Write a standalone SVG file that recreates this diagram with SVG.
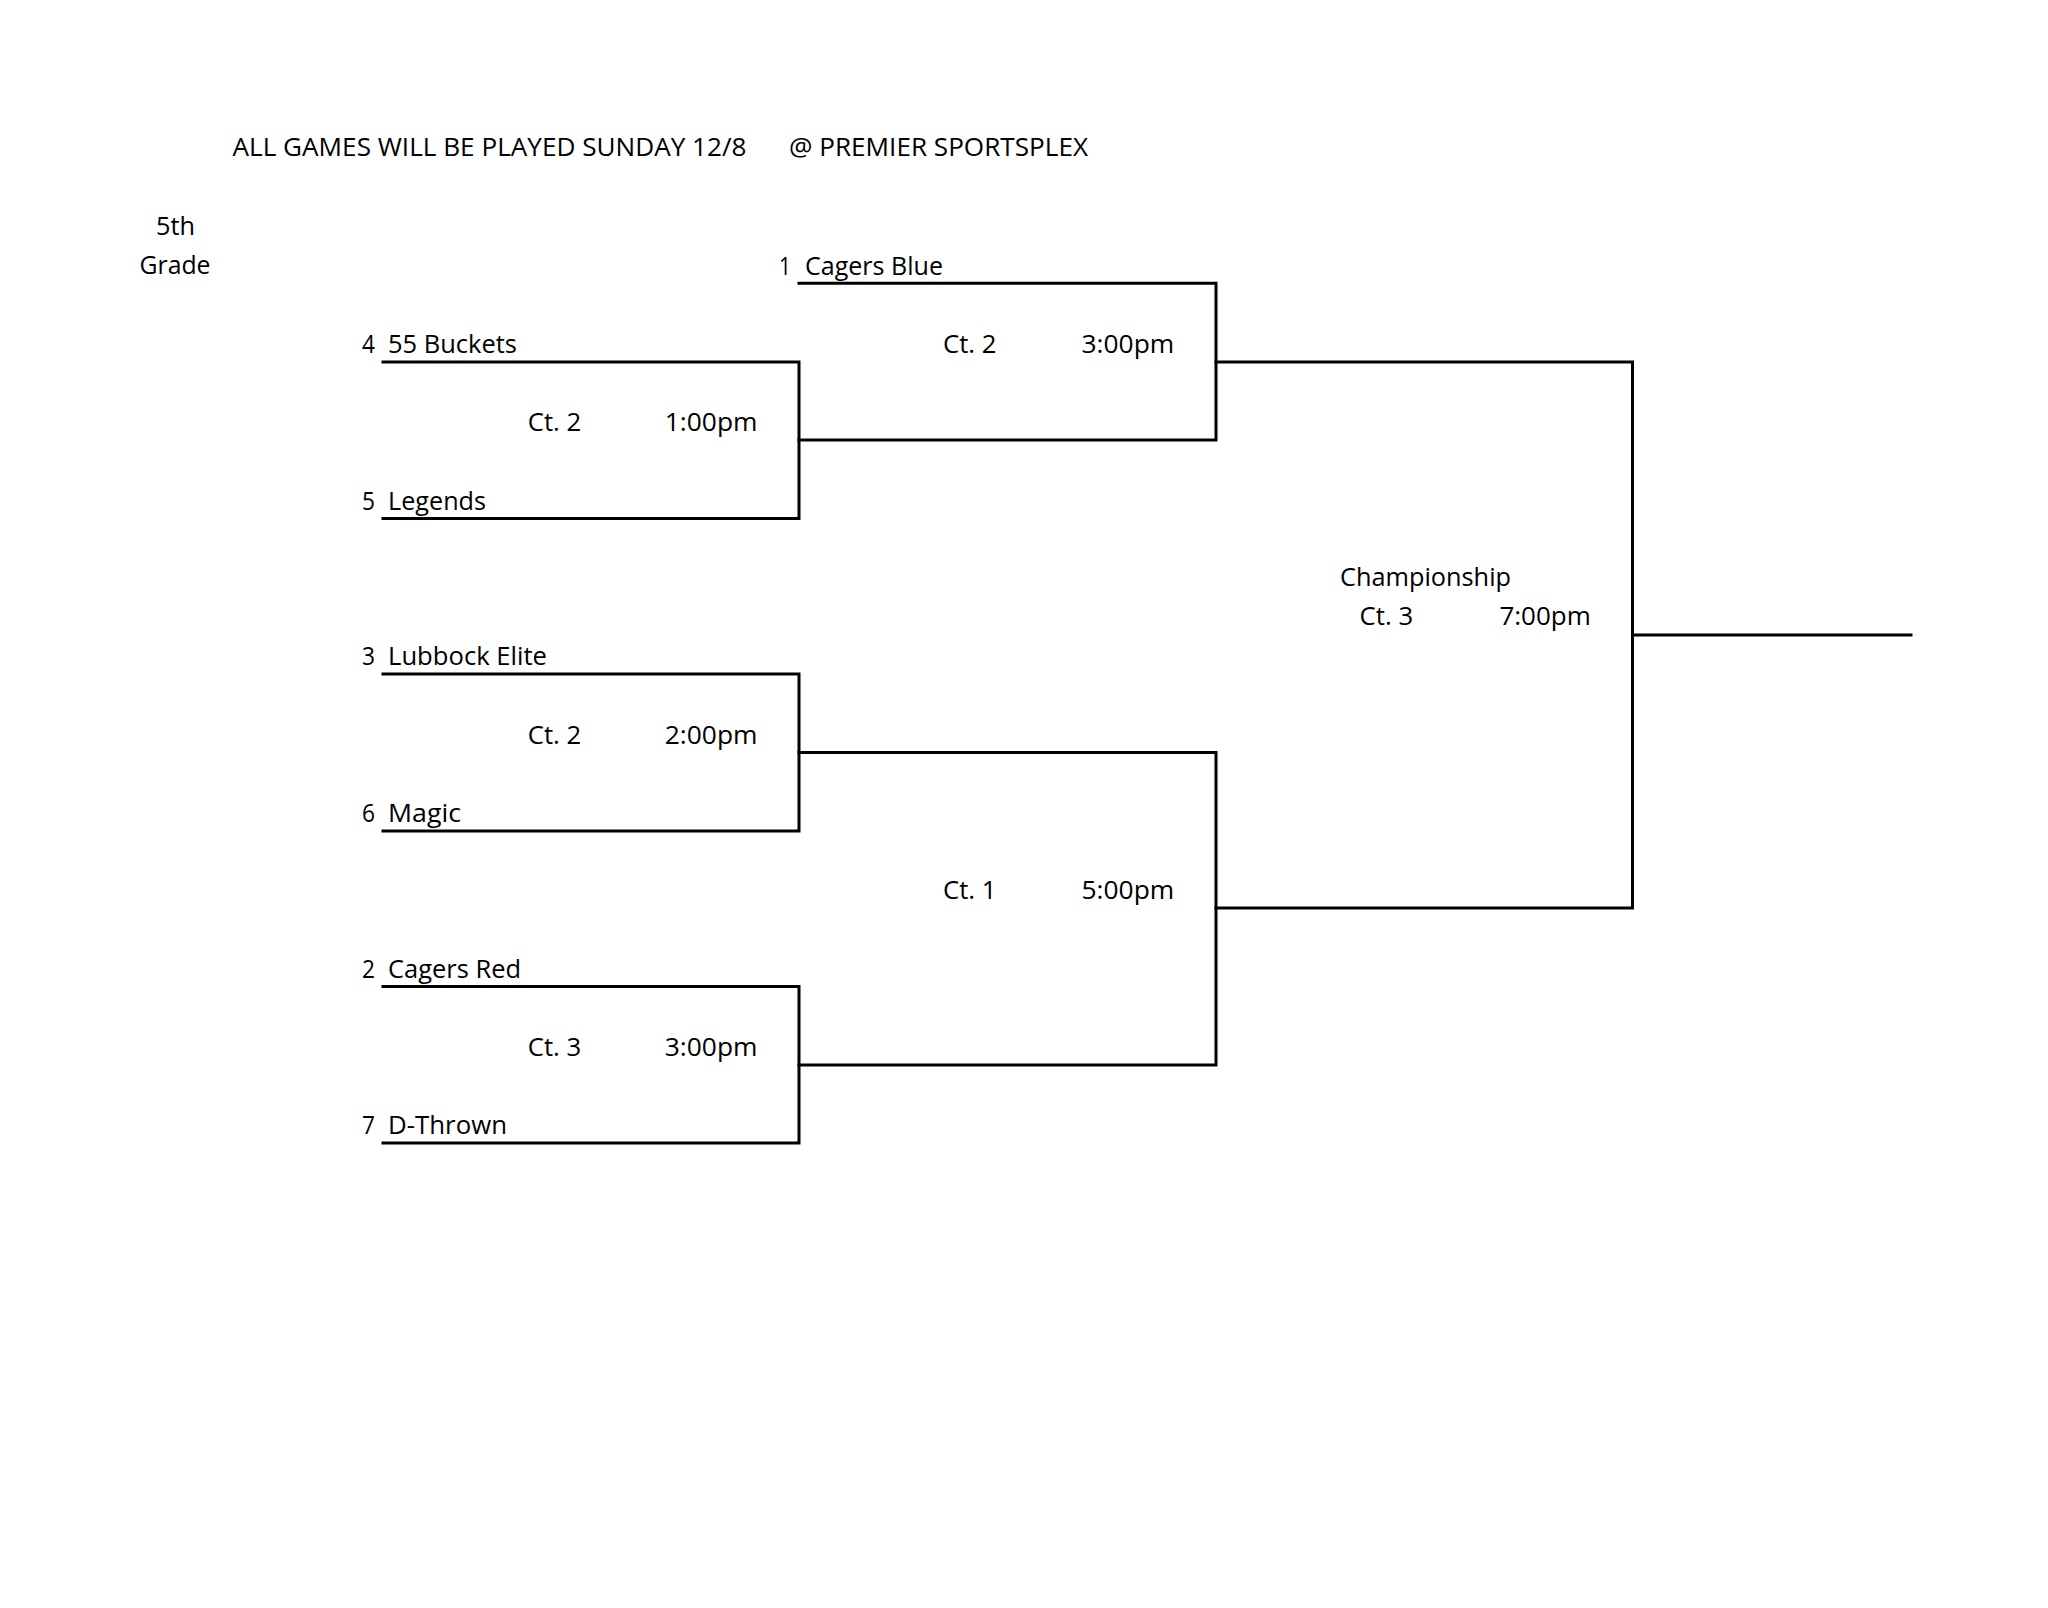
<svg xmlns="http://www.w3.org/2000/svg" width="2048" height="1608" viewBox="0 0 2048 1608">
<style>
text{font-family:"Open Sans","Liberation Sans",sans-serif;font-size:25.5px;fill:#000}
.ln{stroke:#000;stroke-width:3;fill:none;stroke-linecap:square}
</style>
<rect width="2048" height="1608" fill="#fff"/>
<g id="header">
<text x="232.5" y="156" textLength="514" lengthAdjust="spacingAndGlyphs">ALL GAMES WILL BE PLAYED SUNDAY 12/8</text>
<text x="789" y="156" textLength="299" lengthAdjust="spacingAndGlyphs">@ PREMIER SPORTSPLEX</text>
<text x="156" y="235" textLength="39" lengthAdjust="spacingAndGlyphs">5th</text>
<text x="139.5" y="274" textLength="71" lengthAdjust="spacingAndGlyphs">Grade</text>
</g>
<g id="connectors">
<path class="ln" d="M799 283.3H1216V440H799"/>
<path class="ln" d="M383 362H799V518.5H383"/>
<path class="ln" d="M383 674H799V831H383"/>
<path class="ln" d="M383 986.5H799V1143H383"/>
<path class="ln" d="M799 752.5H1216V1065H799"/>
<path class="ln" d="M1216 362H1632.5V908H1216"/>
<path class="ln" d="M1632.5 635H1911"/>
</g>
<g id="team-1"><text x="779" y="274.5" textLength="12" lengthAdjust="spacingAndGlyphs">1</text><text x="805" y="274.5" textLength="138" lengthAdjust="spacingAndGlyphs">Cagers Blue</text></g>
<g id="team-4"><text x="362" y="353" textLength="13" lengthAdjust="spacingAndGlyphs">4</text><text x="388" y="353" textLength="129" lengthAdjust="spacingAndGlyphs">55 Buckets</text></g>
<g id="team-5"><text x="362" y="509.5" textLength="13" lengthAdjust="spacingAndGlyphs">5</text><text x="388" y="509.5" textLength="98" lengthAdjust="spacingAndGlyphs">Legends</text></g>
<g id="team-3"><text x="362" y="665" textLength="13" lengthAdjust="spacingAndGlyphs">3</text><text x="388" y="665" textLength="159" lengthAdjust="spacingAndGlyphs">Lubbock Elite</text></g>
<g id="team-6"><text x="362" y="822" textLength="13" lengthAdjust="spacingAndGlyphs">6</text><text x="388" y="822" textLength="73" lengthAdjust="spacingAndGlyphs">Magic</text></g>
<g id="team-2"><text x="362" y="977.5" textLength="13" lengthAdjust="spacingAndGlyphs">2</text><text x="388" y="977.5" textLength="133" lengthAdjust="spacingAndGlyphs">Cagers Red</text></g>
<g id="team-7"><text x="362" y="1134" textLength="13" lengthAdjust="spacingAndGlyphs">7</text><text x="388" y="1134" textLength="119" lengthAdjust="spacingAndGlyphs">D-Thrown</text></g>
<g id="game-1"><text x="527.7" y="431" textLength="53.5" lengthAdjust="spacingAndGlyphs">Ct. 2</text><text x="664.8" y="431" textLength="92.7" lengthAdjust="spacingAndGlyphs">1:00pm</text></g>
<g id="game-2"><text x="527.7" y="743.5" textLength="53.5" lengthAdjust="spacingAndGlyphs">Ct. 2</text><text x="664.8" y="743.5" textLength="92.7" lengthAdjust="spacingAndGlyphs">2:00pm</text></g>
<g id="game-3"><text x="527.7" y="1056" textLength="53.5" lengthAdjust="spacingAndGlyphs">Ct. 3</text><text x="664.8" y="1056" textLength="92.7" lengthAdjust="spacingAndGlyphs">3:00pm</text></g>
<g id="semi-1"><text x="943" y="353" textLength="53.5" lengthAdjust="spacingAndGlyphs">Ct. 2</text><text x="1081.5" y="353" textLength="92.7" lengthAdjust="spacingAndGlyphs">3:00pm</text></g>
<g id="semi-2"><text x="943" y="899" textLength="53.5" lengthAdjust="spacingAndGlyphs">Ct. 1</text><text x="1081.5" y="899" textLength="92.7" lengthAdjust="spacingAndGlyphs">5:00pm</text></g>
<g id="championship"><text x="1340" y="586" textLength="171" lengthAdjust="spacingAndGlyphs">Championship</text><text x="1359.6" y="625" textLength="53.5" lengthAdjust="spacingAndGlyphs">Ct. 3</text><text x="1499.4" y="625" textLength="91.4" lengthAdjust="spacingAndGlyphs">7:00pm</text></g>
</svg>
